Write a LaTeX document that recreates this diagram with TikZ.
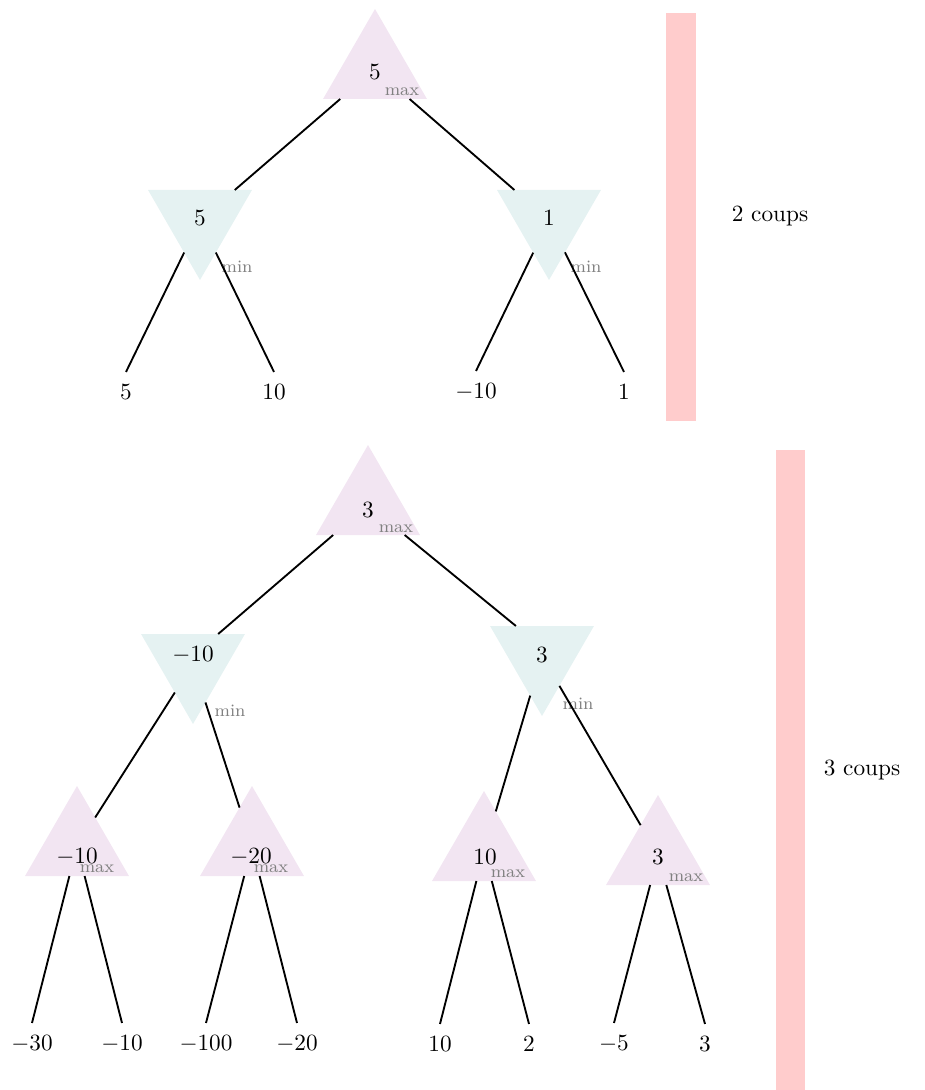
\documentclass[tikz,border=0pt]{standalone}
\usepackage{amsmath}
\usepackage{tikz}
\usetikzlibrary{shapes.geometric,positioning}

\begin{document}
\begin{tikzpicture}[x=0.43pt,y=-0.43pt,line join=bevel,
  maxtri/.style={regular polygon,regular polygon sides=3,minimum size=51.6pt,
    inner sep=0pt,outer sep=0pt,fill=violet!10},
  mintri/.style={maxtri,shape border rotate=180,fill=teal!10},
  mmlabel/.style={text=gray,font=\fontsize{7.5}{9}\selectfont,inner sep=0pt},
  leaf/.style={inner sep=5pt},
  value/.style={inner sep=0pt}]
  \useasboundingbox (0,0) rectangle (924,1090);
  \pgfsetlinewidth{0.8bp}
%%
  % Node: bar2 / bar3
  \fill[red!20] (666,13) rectangle (696,421);
  \node (coups2) at (770,216) {2 coups};
  \fill[red!20] (776,450) rectangle (805,1090);
  \node (coups3) at (862,770) {3 coups};
%%
  % Node: root1
  \node[maxtri] (root1) at (375,69) {};
  \node[value] (root1v) at (375,72) {$5$};
  \node[mmlabel] (root1l) at (402,92) {max};
  % Node: min1a
  \node[mintri] (min1a) at (200,220) {};
  \node[value] (min1av) at (200,218) {$5$};
  \node[mmlabel] (min1al) at (237,267) {min};
  % Node: min1b
  \node[mintri] (min1b) at (549,220) {};
  \node[value] (min1bv) at (549,218) {$1$};
  \node[mmlabel] (min1bl) at (586,267) {min};
  % Node: leaves of tree 1
  \node[leaf] (l1a) at (126,392) {$5$};
  \node[leaf] (l1b) at (274,392) {$10$};
  \node[leaf] (l1c) at (476,392) {$-10$};
  \node[leaf] (l1d) at (624,392) {$1$};
  % Edge: root1 -> min1a, min1b
  \draw (root1) -- (min1a);
  \draw (root1) -- (min1b);
  % Edge: min1a -> l1a, l1b
  \draw (min1a) -- (l1a.north);
  \draw (min1a) -- (l1b.north);
  % Edge: min1b -> l1c, l1d
  \draw (min1b) -- (l1c.north);
  \draw (min1b) -- (l1d.north);
%%
  % Node: root2
  \node[maxtri] (root2) at (368,505) {};
  \node[value] (root2v) at (368,510) {$3$};
  \node[mmlabel] (root2l) at (396,529) {max};
  % Node: min2a
  \node[mintri] (min2a) at (193,664) {};
  \node[value] (min2av) at (193,655) {$-10$};
  \node[mmlabel] (min2al) at (230,711) {min};
  % Node: min2b
  \node[mintri] (min2b) at (542,656) {};
  \node[value] (min2bv) at (542,655) {$3$};
  \node[mmlabel] (min2bl) at (578,704) {min};
  % Node: max2a .. max2d
  \node[maxtri] (max2a) at (77,846) {};
  \node[value] (max2av) at (77,857) {$-10$};
  \node[mmlabel] (max2al) at (97,869) {max};
  \node[maxtri] (max2b) at (252,846) {};
  \node[value] (max2bv) at (251,857) {$-20$};
  \node[mmlabel] (max2bl) at (271,869) {max};
  \node[maxtri] (max2c) at (484,851) {};
  \node[value] (max2cv) at (485,857) {$10$};
  \node[mmlabel] (max2cl) at (508,874) {max};
  \node[maxtri] (max2d) at (658,855) {};
  \node[value] (max2dv) at (658,857) {$3$};
  \node[mmlabel] (max2dl) at (686,878) {max};
  % Node: leaves of tree 2
  \node[leaf] (l2a) at (32,1044) {$-30$};
  \node[leaf] (l2b) at (122,1044) {$-10$};
  \node[leaf] (l2c) at (206,1044) {$-100$};
  \node[leaf] (l2d) at (297,1044) {$-20$};
  \node[leaf] (l2e) at (440,1044) {$10$};
  \node[leaf] (l2f) at (529,1044) {$2$};
  \node[leaf] (l2g) at (614,1044) {$-5$};
  \node[leaf] (l2h) at (705,1044) {$3$};
  % Edge: root2 -> min2a, min2b
  \draw (root2) -- (min2a.50);
  \draw (root2) -- (min2b.131);
  % Edge: min2a -> max2a, max2b
  \draw (min2a) -- (max2a);
  \draw (min2a) -- (max2b);
  % Edge: min2b -> max2c, max2d
  \draw (min2b) -- (max2c);
  \draw (min2b) -- (max2d);
  % Edge: max2a .. max2d -> leaves
  \draw (max2a) -- (l2a.north);
  \draw (max2a) -- (l2b.north);
  \draw (max2b) -- (l2c.north);
  \draw (max2b) -- (l2d.north);
  \draw (max2c) -- (l2e.north);
  \draw (max2c) -- (l2f.north);
  \draw (max2d) -- (l2g.north);
  \draw (max2d) -- (l2h.north);
%
\end{tikzpicture}
\end{document}
